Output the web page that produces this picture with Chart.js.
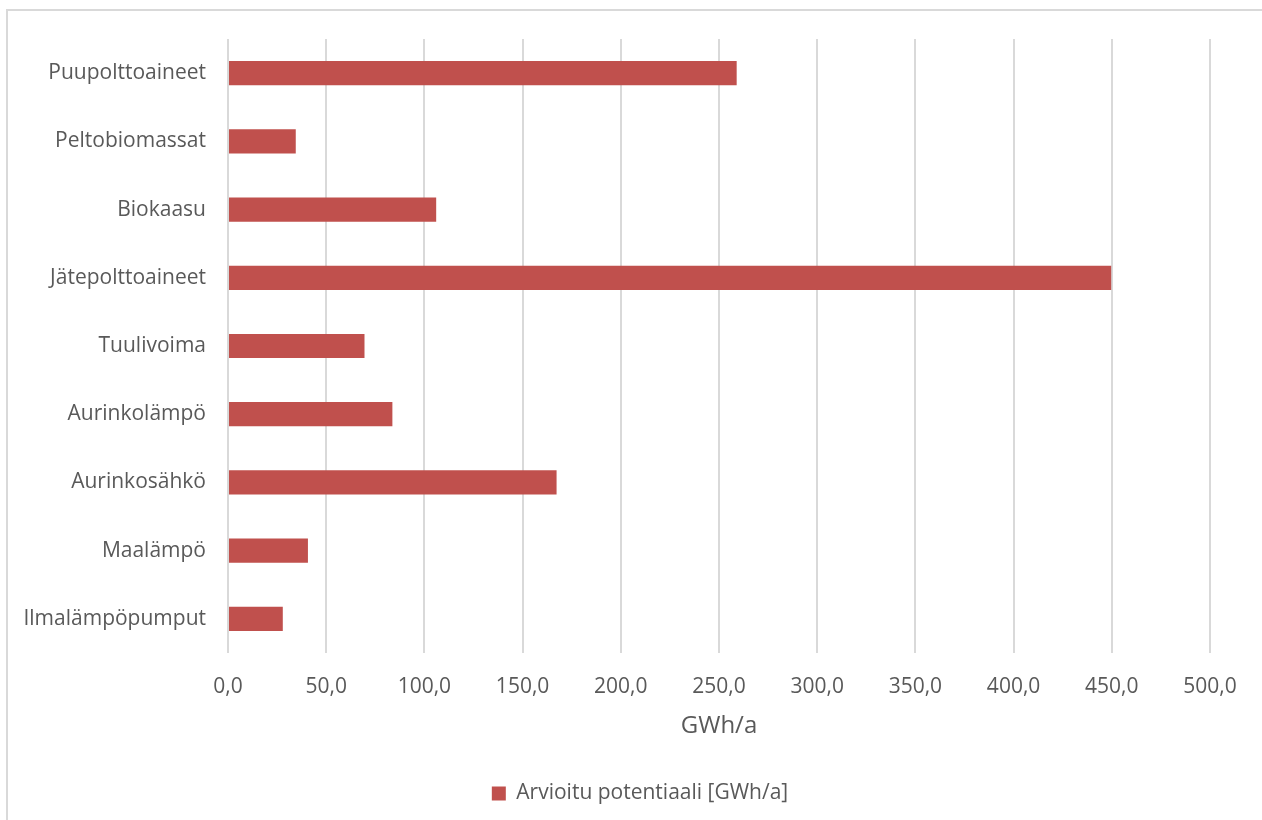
<!DOCTYPE html>
<html>
<head>
<meta charset="utf-8">
<script src="https://cdn.jsdelivr.net/npm/chart.js@4/dist/chart.umd.min.js"></script>
<style>
  html, body { margin: 0; padding: 0; background: #fff; }
  #wrap { position: relative; width: 1262px; height: 820px; overflow: hidden; }
  #frame { position: absolute; left: 6px; top: 9px; width: 1300px; height: 900px; border: 2px solid #d9d9d9; box-sizing: border-box; }
  canvas { position: absolute; left: 0; top: 0; }
</style>
</head>
<body>
<div id="wrap">
  <div id="frame"></div>
  <canvas id="chart" width="1262" height="820"></canvas>
</div>
<script>
// --- Data ---
const categories = [
  'Puupolttoaineet',
  'Peltobiomassat',
  'Biokaasu',
  'Jätepolttoaineet',
  'Tuulivoima',
  'Aurinkolämpö',
  'Aurinkosähkö',
  'Maalämpö',
  'Ilmalämpöpumput'
];
const potentialValues = [259.0, 34.5, 106.0, 449.7, 69.5, 83.7, 167.3, 40.7, 27.9];
const seriesLabel = 'Arvioitu potentiaali [GWh/a]';
const axisTitle = 'GWh/a';
const axisMin = 0;
const axisMax = 500;
const axisStep = 50;

const TEXT_COLOR = '#595959';
const GRID_COLOR = '#d9d9d9';
const BAR_COLOR = '#c0504d';
const FONT = 'Open Sans';

Chart.defaults.font.family = FONT;
Chart.defaults.color = TEXT_COLOR;

// legend sits centred on the whole frame, not just the area left of the right padding
const legendShift = {
  id: 'legendShift',
  afterLayout(chart) {
    if (!chart.legend) return;
    chart.legend.left += 35;
    chart.legend.right += 35;
  }
};

const ctx = document.getElementById('chart').getContext('2d');
new Chart(ctx, {
  type: 'bar',
  data: {
    labels: categories,
    datasets: [{
      label: seriesLabel,
      data: potentialValues,
      backgroundColor: BAR_COLOR,
      borderWidth: 0,
      categoryPercentage: 1.0,
      barPercentage: 0.355
    }]
  },
  options: {
    indexAxis: 'y',
    responsive: false,
    animation: false,
    layout: { padding: { top: 39, right: 52, left: 0, bottom: 6 } },
    scales: {
      x: {
        min: axisMin,
        max: axisMax,
        border: { display: false },
        grid: { color: GRID_COLOR, lineWidth: 2, drawTicks: false },
        ticks: {
          stepSize: axisStep,
          padding: 21,
          font: { size: 21 },
          color: TEXT_COLOR,
          callback: v => v.toFixed(1).replace('.', ',')
        },
        title: {
          display: true,
          text: axisTitle,
          font: { size: 24 },
          color: TEXT_COLOR,
          padding: { top: 10, bottom: 32 }
        },
        afterFit: scale => { scale.height = 120; }
      },
      y: {
        border: { display: false },
        grid: { display: false, drawTicks: false },
        ticks: {
          padding: 22,
          font: { size: 21 },
          color: TEXT_COLOR
        },
        afterFit: scale => { scale.width = 228; }
      }
    },
    plugins: {
      legend: {
        position: 'bottom',
        labels: {
          boxWidth: 14,
          boxHeight: 14,
          padding: 10,
          font: { size: 21 },
          color: TEXT_COLOR
        }
      },
      tooltip: { enabled: false }
    }
  },
  plugins: [legendShift]
});
</script>
</body>
</html>
